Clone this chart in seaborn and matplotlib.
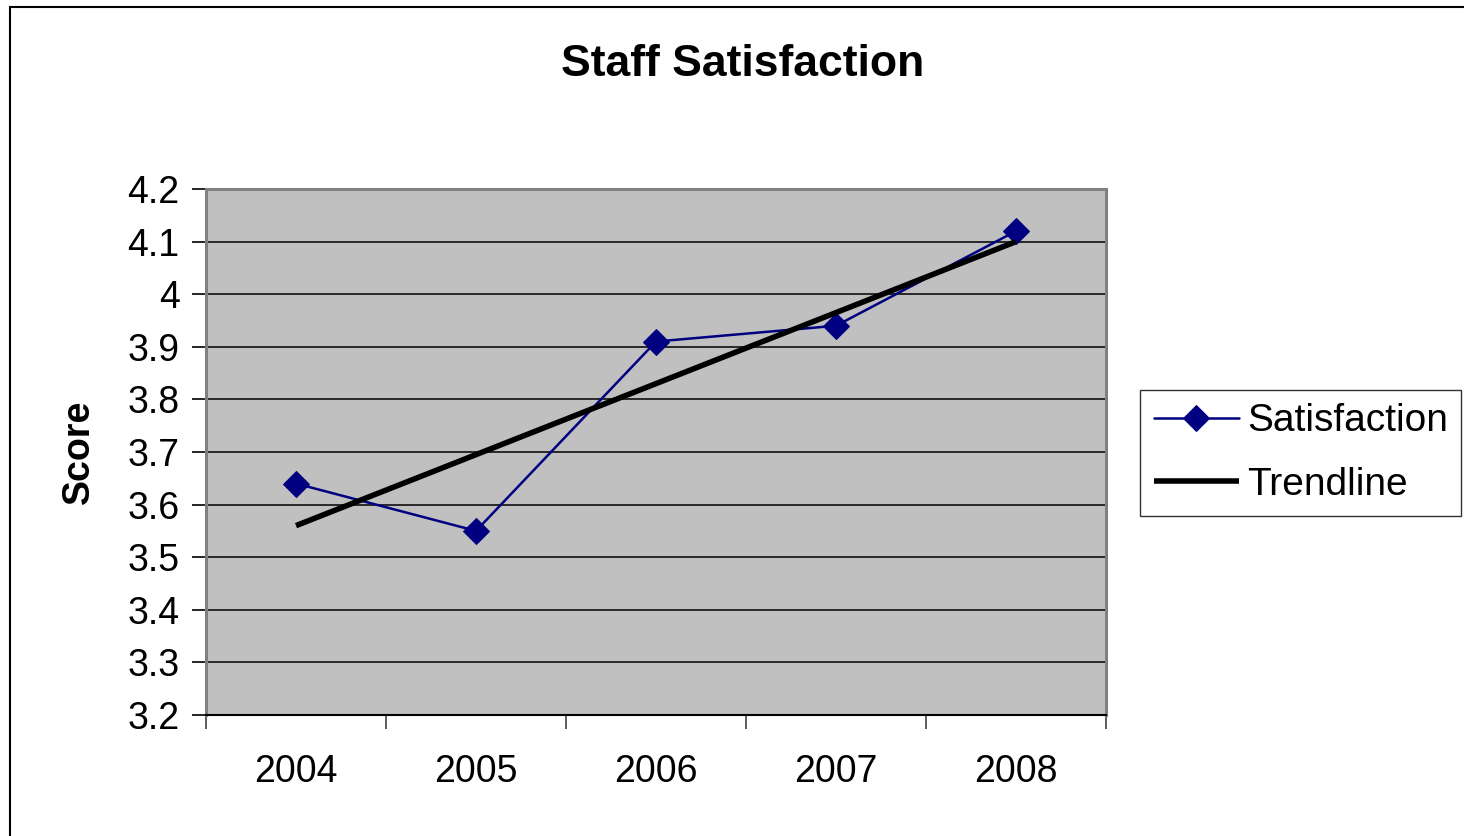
import matplotlib
matplotlib.use("Agg")
import matplotlib.pyplot as plt
import seaborn as sns
import pandas as pd
from matplotlib.patches import Rectangle

# values
years = ["2004", "2005", "2006", "2007", "2008"]
satisfaction = [3.64, 3.55, 3.91, 3.94, 4.12]
trendline = [3.56, 3.695, 3.83, 3.965, 4.10]
y_ticks = [3.2, 3.3, 3.4, 3.5, 3.6, 3.7, 3.8, 3.9, 4.0, 4.1, 4.2]
y_tick_labels = ["3.2", "3.3", "3.4", "3.5", "3.6", "3.7", "3.8", "3.9", "4", "4.1", "4.2"]

df = pd.DataFrame({"Year": years, "Satisfaction": satisfaction, "Trendline": trendline})
df["pos"] = range(len(years))

sns.set_style("white")
plt.rcParams["font.family"] = ["Liberation Sans", "DejaVu Sans"]
plt.rcParams["text.color"] = "black"
plt.rcParams["axes.labelcolor"] = "black"
plt.rcParams["xtick.color"] = "black"
plt.rcParams["ytick.color"] = "black"

fig = plt.figure(figsize=(14.64, 8.36), dpi=100)
ax = fig.add_axes([206 / 1464, 1 - 715 / 836, 900 / 1464, 526 / 836])
ax.set_facecolor("#C0C0C0")

# gridlines first so the data sits on top
for v in y_ticks[1:-1]:
    ax.axhline(v, color="black", lw=1.1, zorder=1)

sns.lineplot(data=df, x="pos", y="Satisfaction", ax=ax, color="#000080", lw=1.8,
             marker="D", markersize=13, markeredgecolor="#000080",
             label="Satisfaction", zorder=3)
sns.lineplot(data=df, x="pos", y="Trendline", ax=ax, color="black", lw=4,
             label="Trendline", zorder=4, solid_capstyle="butt")

ax.set_xlim(-0.5, len(years) - 0.5)
ax.set_ylim(3.2, 4.2)
ax.set_yticks(y_ticks)
ax.set_yticklabels(y_tick_labels, fontsize=27)

# category boundaries get the tick marks, labels sit between them
ax.set_xticks([i - 0.5 for i in range(len(years) + 1)])
ax.set_xticklabels([])
ax.set_xticks(range(len(years)), minor=True)
ax.set_xticklabels(years, minor=True, fontsize=27)
ax.tick_params(axis="x", which="major", direction="out", length=10, width=1.2,
               color="#404040", bottom=True)
ax.tick_params(axis="x", which="minor", length=0, pad=28)
ax.tick_params(axis="y", direction="out", length=10, width=1.2, color="black",
               left=True, pad=9)

ax.set_xlabel("")
ax.set_ylabel("Score", fontsize=27, fontweight="bold", labelpad=22)

for side in ["top", "right", "left"]:
    ax.spines[side].set_color("#808080")
    ax.spines[side].set_linewidth(2.2)
ax.spines["bottom"].set_color("black")
ax.spines["bottom"].set_linewidth(1.5)

fig.suptitle("Staff Satisfaction", x=743 / 1464, y=1 - 64 / 836, va="center",
             fontsize=32, fontweight="bold", color="black")

leg = ax.legend(loc="center left", bbox_to_anchor=(1140 / 1464, 1 - 453 / 836),
                bbox_transform=fig.transFigure, fontsize=28, frameon=True,
                fancybox=False, edgecolor="black", handlelength=2.2,
                handletextpad=0.2, borderpad=0.35, labelspacing=0.7,
                borderaxespad=0)
leg.get_frame().set_linewidth(1.0)

# outer chart border, cut off at the right and bottom like the reference
fig.patches.append(Rectangle((10 / 1464, -0.05), 1.1, 1 - 7 / 836 + 0.05,
                             transform=fig.transFigure, fill=False,
                             edgecolor="black", lw=1.5))

fig.savefig("out.png", dpi=100)
